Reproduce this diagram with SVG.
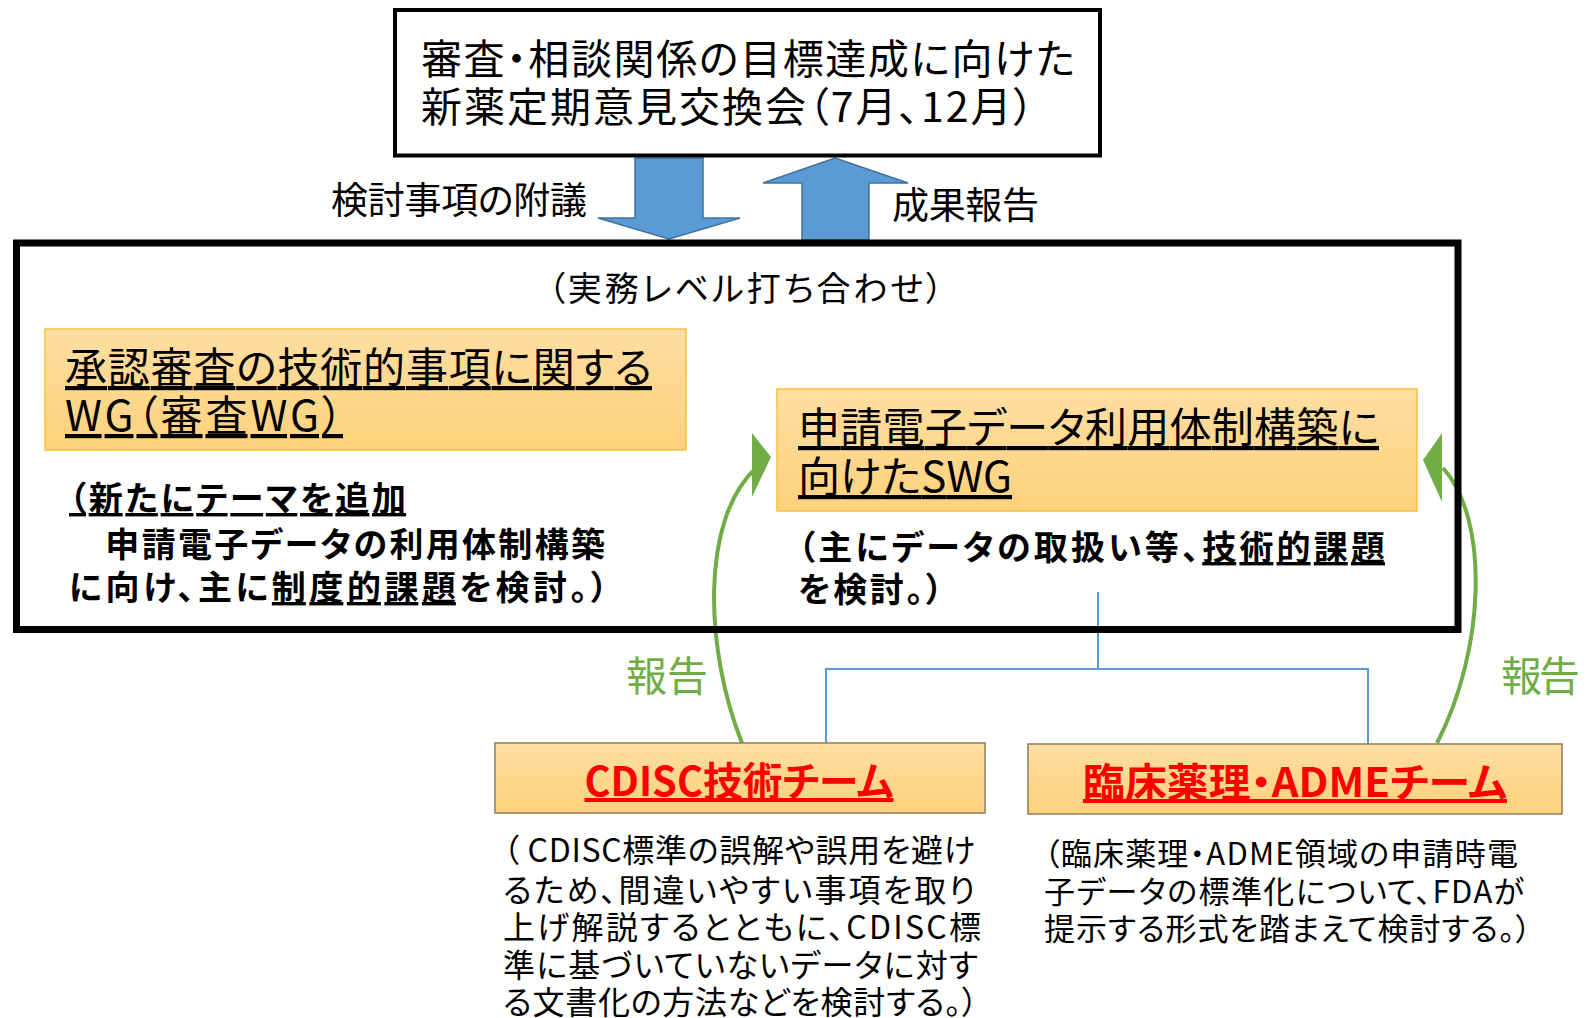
<svg xmlns="http://www.w3.org/2000/svg" width="1590" height="1018" viewBox="0 0 1590 1018">
<style>
text{font-family:"Noto Sans CJK JP","Noto Sans",sans-serif;fill:#000;font-feature-settings:"palt"}
.t41{font-size:41px}
.t37{font-size:37px}
.t34{font-size:34px}
.b34{font-size:34px;font-weight:bold}
.t42{font-size:42px}
.red{font-size:40px;font-weight:bold;fill:#ff0000;text-decoration:underline}
.g{font-size:41px;fill:#70ad47}
.d33{font-size:32px}
.d31{font-size:31px}
.u{text-decoration:underline}
.obox{fill:url(#og);stroke:#f6c143;stroke-width:1.5}
.tbox{fill:url(#og);stroke:#8b7d5c;stroke-width:1.5}
.blue{fill:none;stroke:#5b9bd5;stroke-width:2}
.green{fill:none;stroke:#70ad47;stroke-width:4}
.bigarrow{fill:#5b9bd5;stroke:#41719c;stroke-width:1.5}
</style>
<defs>
<linearGradient id="og" x1="0" y1="0" x2="0" y2="1">
<stop offset="0" stop-color="#ffdea2"/>
<stop offset="1" stop-color="#fed27c"/>
</linearGradient>
</defs>
<rect width="1590" height="1018" fill="#fff"/>

<g id="connectors">
<polygon class="bigarrow" points="635,158 703,158 703,218 740,218 669,239 598,218 635,218"/>
<polygon class="bigarrow" points="835,158 908,183 869,183 869,240 802,240 802,183 763,183"/>
<polyline class="blue" points="1098,592 1098,669"/>
<polyline class="blue" points="826,743 826,669 1368,669 1368,744"/>
<path class="green" d="M742,743 C705,650 700,520 756,468"/>
<polygon fill="#70ad47" points="771,457 752,433 752,497"/>
<path class="green" d="M1437,743 C1485,650 1490,520 1443,468"/>
<polygon fill="#70ad47" points="1423,460 1442,433 1442,502"/>
<text class="t37" x="331" y="214" textLength="256">検討事項の附議</text>
<text class="t37" x="892" y="219" textLength="147">成果報告</text>
<text class="g" x="626" y="691" textLength="82">報告</text>
<text class="g" x="1501" y="691" textLength="79">報告</text>
</g>

<g id="top-meeting">
<rect x="395" y="10" width="705" height="145.5" fill="#fff" stroke="#000" stroke-width="4"/>
<text class="t41" x="421" y="74" textLength="654">審査・相談関係の目標達成に向けた</text>
<text class="t41" x="421" y="122" textLength="613">新薬定期意見交換会（7月、12月）</text>
</g>

<g id="practical-meeting">
<rect x="16.5" y="243" width="1441.5" height="386.5" fill="none" stroke="#000" stroke-width="7"/>
<text class="t34" x="548" y="301" textLength="395">（実務レベル打ち合わせ）</text>
</g>

<g id="review-wg">
<rect class="obox" x="45" y="329" width="641" height="121"/>
<text class="t42 u" x="65" y="383" textLength="587">承認審査の技術的事項に関する</text>
<text class="t42 u" x="65" y="431" textLength="278">WG（審査WG）</text>
<text class="b34 u" x="69" y="511" textLength="337">（新たにテーマを追加</text>
<text class="b34" x="69" y="557" textLength="536">　申請電子データの利用体制構築</text>
<text class="b34" x="69" y="600" textLength="539">に向け、主に<tspan class="u">制度的課題</tspan>を検討。）</text>
</g>

<g id="swg">
<rect class="obox" x="777" y="389" width="640" height="122"/>
<text class="t42 u" x="798" y="443" textLength="581">申請電子データ利用体制構築に</text>
<text class="t42 u" x="798" y="492" textLength="214">向けたSWG</text>
<text class="b34" x="798" y="560" textLength="587">（主にデータの取扱い等、<tspan class="u">技術的課題</tspan></text>
<text class="b34" x="798" y="602" textLength="145">を検討。）</text>
</g>

<g id="cdisc-team">
<rect class="tbox" x="495" y="743" width="490" height="70"/>
<text class="red" x="739" y="796" text-anchor="middle" textLength="309" lengthAdjust="spacingAndGlyphs">CDISC技術チーム</text>
<text class="d33" x="503" y="862" textLength="472">（ CDISC標準の誤解や誤用を避け</text>
<text class="d33" x="503" y="902" textLength="472">るため、間違いやすい事項を取り</text>
<text class="d33" x="503" y="939" textLength="478">上げ解説するとともに、CDISC標</text>
<text class="d33" x="503" y="977" textLength="475">準に基づいていないデータに対す</text>
<text class="d33" x="503" y="1014" textLength="475">る文書化の方法などを検討する。）</text>
</g>

<g id="adme-team">
<rect class="tbox" x="1028" y="744" width="534" height="70"/>
<text class="red" x="1295" y="797" text-anchor="middle" textLength="424" lengthAdjust="spacingAndGlyphs">臨床薬理・ADMEチーム</text>
<text class="d31" x="1044" y="865" textLength="474">（臨床薬理・ADME領域の申請時電</text>
<text class="d31" x="1044" y="903" textLength="480">子データの標準化について、FDAが</text>
<text class="d31" x="1044" y="940" textLength="487">提示する形式を踏まえて検討する。）</text>
</g>
</svg>
